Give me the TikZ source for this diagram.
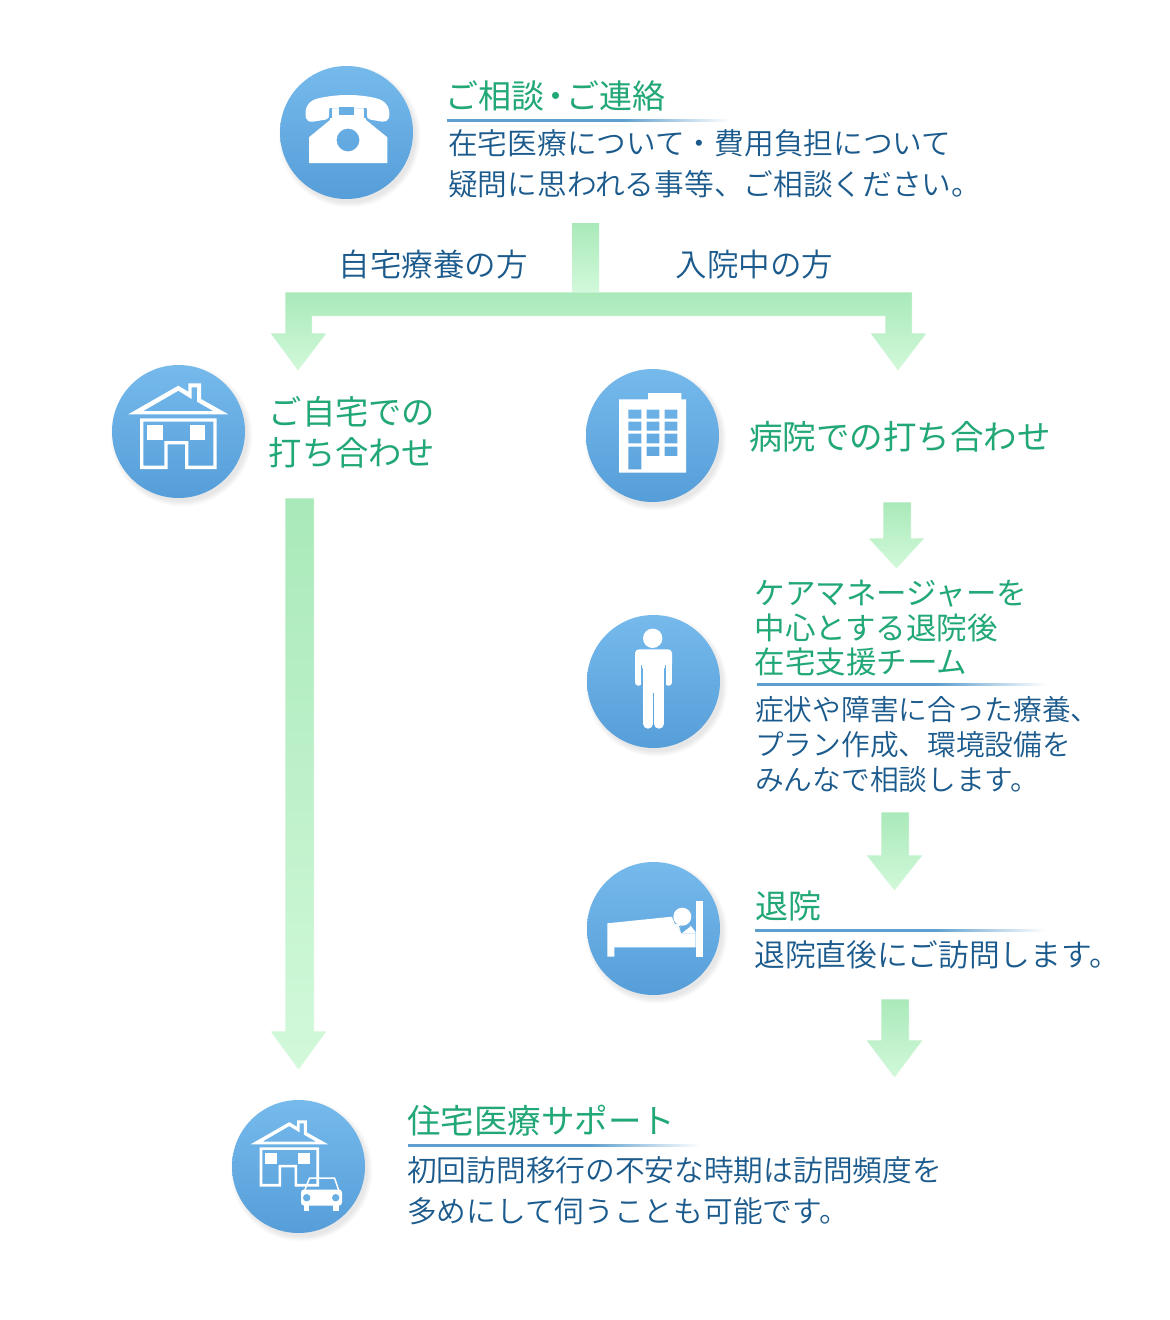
\documentclass[tikz,border=0pt]{standalone}
\usepackage{fontspec}
\setmainfont{Noto Sans CJK JP DemiLight}
\newfontfamily\headfont{Noto Sans CJK JP}
\definecolor{tgreen}{HTML}{22A876}
\definecolor{tblue}{HTML}{1B5A8C}
\definecolor{ruleblue}{HTML}{5F9FCF}
\definecolor{atop}{HTML}{A9E9B9}
\definecolor{abot}{HTML}{D2F9DA}
\definecolor{ctop}{HTML}{76BAEC}
\definecolor{cbot}{HTML}{569ED9}
\definecolor{cmid}{HTML}{68AEE3}
\pgfdeclarehorizontalshading{ruleshade}{100bp}{color(0bp)=(ruleblue); color(25bp)=(ruleblue); color(56bp)=(ruleblue); color(75bp)=(white); color(100bp)=(white)}
\tikzset{
  badge/.style={circle,minimum size=133pt,inner sep=0pt,top color=ctop,bottom color=cbot,draw=none},
  blockarrow/.style={top color=atop,bottom color=abot,draw=white,line width=0.5pt},
  titlerule/.style={shading=ruleshade,draw=none},
  head/.style={text=tgreen,inner sep=0pt,anchor=base west,align=left},
  bodytext/.style={text=tblue,inner sep=0pt,anchor=base west,align=left},
  icon/.style={fill=white,draw=none},
  gap/.style={fill=cmid,draw=none}
}
\newcommand{\badgeat}[3]{%
  \foreach \rr in {71,70,69,68,67,66}{\fill[black,opacity=0.016] (#2+3,#3+4) circle[radius=\rr];}
  \node[badge] (#1) at (#2,#3) {};}
\newcommand{\houseshape}{%
  \fill[icon,even odd rule] (128.3,414.3)--(178.3,385.7)--(188.3,391.7)--(188.3,383.3)--(201,383.3)--(201,399)--(228.3,414.3)--cycle
     (143.3,411)--(178.3,390.7)--(191.7,399)--(191.7,387.3)--(197,387.3)--(197,401.7)--(213.3,411)--cycle;
  \fill[icon,even odd rule] (140,418.3)--(216.7,418.3)--(216.7,469)--(185,469)--(185,444.3)--(167.7,444.3)--(167.7,469)--(140,469)--cycle
     (143.4,421.7)--(213.3,421.7)--(213.3,465.6)--(188.4,465.6)--(188.4,441)--(164.3,441)--(164.3,465.6)--(143.4,465.6)--cycle;
  \fill[icon] (147.3,425) rectangle (162.7,440);
  \fill[icon] (190,425) rectangle (205,440);
}
\begin{document}
\begin{tikzpicture}[x=1pt,y=-1pt]
\useasboundingbox (0,0) rectangle (1170,1320);
\fill[white] (0,0) rectangle (1170,1320);

% block arrows
\path[top color=atop,bottom color=abot] (572,223) rectangle (599,292);
\path[blockarrow] (285,292)--(912,292)--(912,333)--(927,333)--(898,371)--(870,333)--(885,333)--(885,316)--(312,316)--(312,333)--(327,333)--(298,371)--(270,333)--(285,333)--cycle;
\path[blockarrow] (285,498)--(314,498)--(314,1031)--(327,1031)--(298.5,1070)--(270,1031)--(285,1031)--cycle;
\path[blockarrow] (883,502)--(911,502)--(911,538)--(925,538)--(896.5,569)--(868,538)--(883,538)--cycle;
\path[blockarrow] (881,812)--(909,812)--(909,855)--(923,855)--(894.5,891)--(866,855)--(881,855)--cycle;
\path[blockarrow] (881,999)--(909,999)--(909,1040)--(923,1040)--(894.5,1078)--(866,1040)--(881,1040)--cycle;

% badges
\badgeat{tel}{346.5}{132.5}
\badgeat{home}{178.5}{431.5}
\badgeat{hosp}{652.5}{435.5}
\badgeat{care}{653.5}{681.5}
\badgeat{bedb}{653.5}{928.5}
\badgeat{supp}{298.5}{1166.5}

% telephone
\fill[icon] (306,118) .. controls (304,108) and (308,100) .. (320,98) .. controls (338,94) and (358,94) .. (375,98) .. controls (386,100) and (391,108) .. (389,118) .. controls (388,121) and (385,122) .. (382,121.7) -- (370,119.5) .. controls (367,119) and (367,117) .. (367,114) -- (367,108.3) -- (329,108.3) -- (329,114) .. controls (329,117) and (329,119) .. (326,119.5) -- (313,121.7) .. controls (309,122) and (307,121) .. (306,118) -- cycle;
\fill[icon,even odd rule] (309,163)--(309,137.3)--(330,120)--(331.7,108.3)--(363.5,108.3)--(366,120)--(387.3,137.3)--(387.3,163)--cycle (359.5,140) arc[start angle=0,end angle=360,radius=11.5];
\fill[gap] (339.3,106.7) rectangle (354,115);
\fill[gap] (329.5,108.3) rectangle (331.7,118);
\fill[gap] (363.5,108.3) rectangle (366,118);

% home
\houseshape

% hospital
\fill[icon,even odd rule] (619,399.3)--(648,399.3)--(648,393)--(681.3,393)--(681.3,399.3)--(686,399.3)--(686,472.7)--(619,472.7)--cycle
  (628.3,409.7) rectangle (641.3,418.7) (646.7,409.7) rectangle (659.3,418.7) (664.7,409.7) rectangle (677.3,418.7)
  (628.3,421.7) rectangle (641.3,430.7) (646.7,421.7) rectangle (659.3,430.7) (664.7,421.7) rectangle (677.3,430.7)
  (628.3,433.7) rectangle (641.3,443.3) (646.7,433.7) rectangle (659.3,443.3) (664.7,433.7) rectangle (677.3,443.3)
  (628.3,446.7) rectangle (641.3,469.3) (646.7,446.7) rectangle (659.3,456) (664.7,446.7) rectangle (677.3,456);

% person
\fill[icon] (652.7,638.3) circle[radius=9.7];
\fill[icon,rounded corners=4pt] (635,649.3) rectangle (672,668);
\draw[white,line width=6.5pt,line cap=round] (638.3,655)--(638.3,682.5);
\draw[white,line width=6.5pt,line cap=round] (668.7,655)--(668.7,682.5);
\fill[icon] (643,652) rectangle (664,693);
\draw[white,line width=10pt,line cap=round] (648,665)--(648,723.7);
\draw[white,line width=10pt,line cap=round] (659.2,665)--(659.2,723.7);
\draw[cmid,line width=1.2pt] (641.5,665)--(641.5,685);
\draw[cmid,line width=1.2pt] (665.5,665)--(665.5,685);

% bed
\fill[icon] (695.7,900.7) rectangle (703,956.7);
\fill[icon] (607.3,923.3)--(671.7,916.7)--(675,924)--(681.7,933.3)--(695.7,933.3)--(695.7,947.3)--(614.3,947.3)--(614.3,956.7)--(607.3,956.7)--cycle;
\fill[icon] (682.3,916.7) circle[radius=9];
\fill[icon] (681.7,933.3)--(690.5,925.5)--(695.7,932)--(695.7,933.3)--cycle;
\fill[icon] (675,924)--(680,924.5)--(681,932)--cycle;
\draw[cmid,line width=1pt] (679.5,926)--(681.5,932.5)--(690,926);

% support: house and car
\begin{scope}[shift={(151.5,824)},scale=0.773]
\houseshape
\end{scope}
\draw[white,line width=1.5pt,line join=round] (304.5,1191)--(309.5,1178)--(334.5,1178)--(339,1191);
\fill[icon,rounded corners=3pt] (301,1189.5) rectangle (342,1205.5);
\fill[icon] (304,1204) rectangle (309.3,1210.7);
\fill[icon] (333.3,1204) rectangle (338.7,1210.7);
\fill[cmid] (306.7,1197.7) circle[radius=3.7];
\fill[cmid] (335.7,1197.7) circle[radius=3.7];

% title rules
\path[titlerule] (447,119) rectangle (730,121);
\path[titlerule] (757,683) rectangle (1047,685);
\path[titlerule] (755,929) rectangle (1045,931);
\path[titlerule] (408,1144) rectangle (700,1146);

% texts
\node[head,font=\headfont\fontsize{33}{40}\selectfont] (t1) at (445.5,108) {ご相談\makebox[22pt]{・}ご連絡};
\node[bodytext,font=\fontsize{29.7}{41}\selectfont] (b1) at (448,195) {在宅医療について・費用負担について\\疑問に思われる事等、ご相談ください。};
\node[bodytext,font=\fontsize{31.5}{40}\selectfont] (l1) at (338.5,276) {自宅療養の方};
\node[bodytext,font=\fontsize{31.5}{40}\selectfont] (l2) at (675.5,276) {入院中の方};
\node[head,font=\headfont\fontsize{33.3}{41}\selectfont] (t2) at (268.5,465) {ご自宅での\\打ち合わせ};
\node[head,font=\headfont\fontsize{33.5}{40}\selectfont] (t3) at (749,449) {病院での打ち合わせ};
\node[head,font=\headfont\fontsize{30.5}{34.5}\selectfont] (t4) at (754.5,673.5) {ケアマネージャーを\\中心とする退院後\\在宅支援チーム};
\node[bodytext,font=\fontsize{28.7}{35}\selectfont] (b4) at (755,790) {症状や障害に合った療養、\\プラン作成、環境設備を\\みんなで相談します。};
\node[head,font=\headfont\fontsize{33}{40}\selectfont] (t5) at (755,918) {退院};
\node[bodytext,font=\fontsize{30.8}{40}\selectfont] (b5) at (754,966) {退院直後にご訪問します。};
\node[head,font=\headfont\fontsize{33.5}{40}\selectfont] (t6) at (407,1133) {住宅医療サポート};
\node[bodytext,font=\fontsize{29.7}{41}\selectfont] (b6) at (407,1222) {初回訪問移行の不安な時期は訪問頻度を\\多めにして伺うことも可能です。};
\end{tikzpicture}
\end{document}
